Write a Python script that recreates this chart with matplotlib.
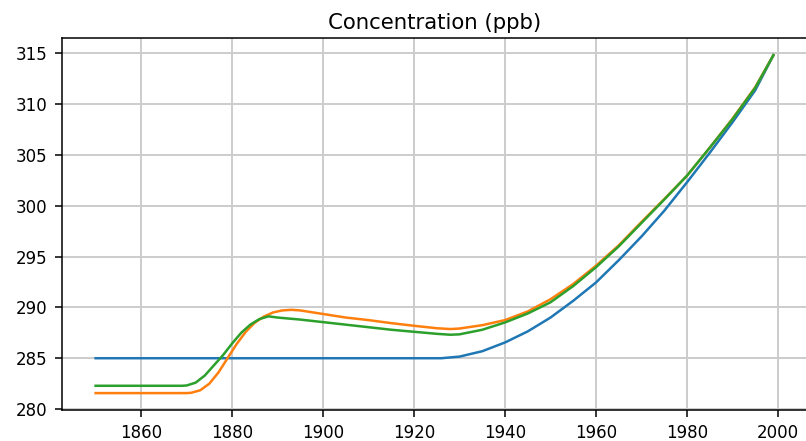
import matplotlib
matplotlib.use("Agg")
import matplotlib.pyplot as plt

# Blue series
years_blue = [1850, 1860, 1870, 1880, 1890, 1900, 1910, 1920, 1926, 1930, 1935,
              1940, 1945, 1950, 1955, 1960, 1965, 1970, 1975, 1980, 1985, 1990,
              1995, 1999]
conc_blue = [285.0, 285.0, 285.0, 285.0, 285.0, 285.0, 285.0, 285.0, 285.0, 285.16, 285.69,
             286.55, 287.64, 289.0, 290.65, 292.45, 294.64, 296.97, 299.5, 302.3, 305.2, 308.2,
             311.35, 314.8]

# Orange series
years_orange = [1850, 1860, 1870, 1871, 1873, 1875, 1877, 1879, 1881, 1883, 1885,
                1887, 1889, 1891, 1893, 1895, 1900, 1905, 1910, 1915, 1920, 1925,
                1928, 1930, 1935, 1940, 1945, 1950, 1955, 1960, 1965, 1970, 1975,
                1980, 1985, 1990, 1995, 1999]
conc_orange = [281.57, 281.57, 281.57, 281.6, 281.85, 282.5, 283.6, 285.0, 286.4, 287.6, 288.5,
               289.1, 289.5, 289.7, 289.76, 289.7, 289.35, 289.0, 288.75, 288.45, 288.19, 287.95,
               287.87, 287.92, 288.25, 288.75, 289.6, 290.8, 292.3, 294.1, 296.1, 298.4, 300.65,
               302.95, 305.7, 308.55, 311.65, 314.8]

# Green series
years_green = [1850, 1860, 1869, 1870, 1872, 1874, 1876, 1878, 1880, 1882, 1884,
               1886, 1888, 1890, 1895, 1900, 1905, 1910, 1915, 1920, 1925, 1928,
               1930, 1935, 1940, 1945, 1950, 1955, 1960, 1965, 1970, 1975, 1980,
               1985, 1990, 1995, 1999]
conc_green = [282.29, 282.29, 282.29, 282.32, 282.6, 283.3, 284.3, 285.3, 286.45, 287.5, 288.3,
              288.85, 289.12, 289.0, 288.8, 288.55, 288.3, 288.05, 287.8, 287.6, 287.4, 287.31,
              287.35, 287.8, 288.52, 289.4, 290.5, 292.1, 293.95, 296.0, 298.3, 300.6, 302.95,
              305.7, 308.5, 311.6, 314.8]

x_ticks = [1860, 1880, 1900, 1920, 1940, 1960, 1980, 2000]
y_ticks = [280, 285, 290, 295, 300, 305, 310, 315]

fig = plt.figure(figsize=(8.06, 4.41), dpi=100)
ax = fig.add_axes([0.0766, 0.0703, 0.925, 0.8428])

ax.plot(years_blue, conc_blue, color="#1f77b4", lw=1.8)
ax.plot(years_orange, conc_orange, color="#ff7f0e", lw=1.8)
ax.plot(years_green, conc_green, color="#2ca02c", lw=1.8)

ax.set_title("Concentration (ppb)", fontsize=15.3, pad=7)
ax.grid(True, color="#cccccc", lw=1.4)
ax.tick_params(labelsize=12, length=5.3, width=1.1)
ax.tick_params(axis="y", pad=5)
ax.tick_params(axis="x", pad=4.5)
ax.set_xticks(x_ticks)
ax.set_yticks(y_ticks)
for s in ax.spines.values():
    s.set_linewidth(1.1)

fig.savefig("out.png", dpi=100)
